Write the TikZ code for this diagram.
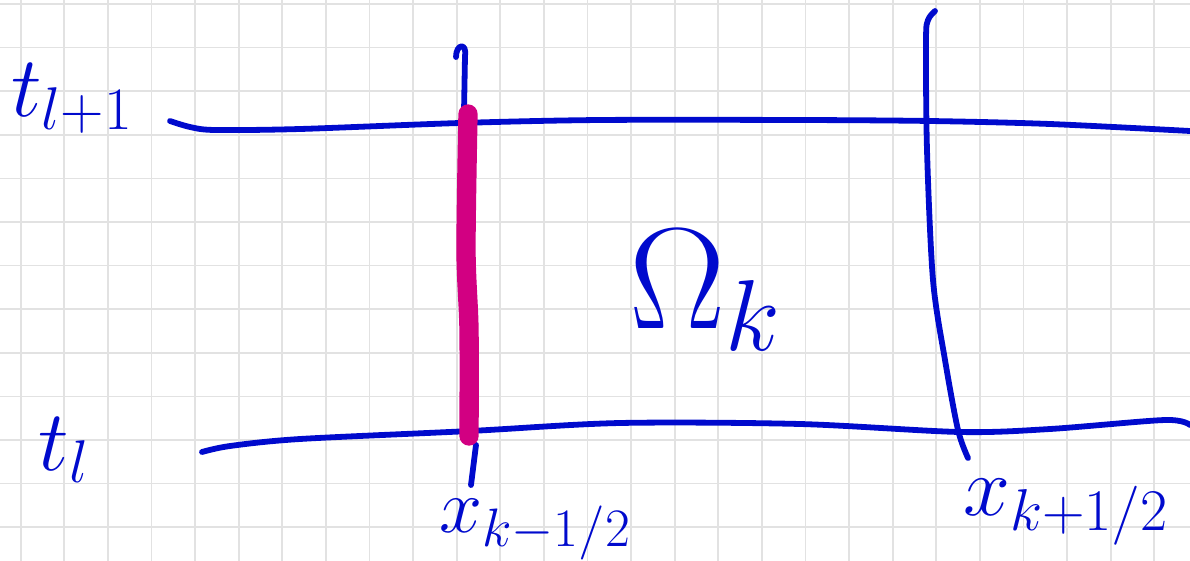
\RequirePackage{fix-cm}
\documentclass[tikz,border=0pt]{standalone}
\usepackage{amsmath,amssymb}
\usepackage{xcolor}
\usepackage{tikz}
\definecolor{inkblue}{RGB}{0,10,205}
\definecolor{inkmagenta}{RGB}{210,0,130}
\definecolor{gridgray}{RGB}{226,226,226}

\begin{document}
\begin{tikzpicture}[x=0.02cm, y=-0.02cm,
    ink/.style={draw=inkblue, line width=3.3pt, line cap=round, line join=round},
    flux/.style={draw=inkmagenta, line width=11pt, line cap=round, line join=round},
    lbl/.style={text=inkblue, inner sep=0pt, font=\fontsize{38}{40}\selectfont}]
  \useasboundingbox (0,0) rectangle (1190,561);

  % paper grid
  \foreach \i in {0,...,26}
    \draw[gridgray, line width=1pt] (20.7+43.6*\i,0) -- (20.7+43.6*\i,561);
  \foreach \j in {0,...,12}
    \draw[gridgray, line width=1pt] (0,4+43.6*\j) -- (1190,4+43.6*\j);

  % time levels
  \draw[ink] plot[smooth, tension=0.5] coordinates {(170,121) (190,127) (215,130) (300,129) (460,123) (600,120) (800,120) (930,121) (1050,124) (1190,131)};
  \draw[ink] plot[smooth, tension=0.5] coordinates {(202,452) (230,446) (300,439) (470,431) (620,423) (800,424) (960,432) (1050,429) (1165,420) (1190,425)};

  % cell faces
  \draw[ink] (456,57) .. controls (456,44) and (467,42) .. (465,56) -- (464,112);
  \draw[ink] (476,445) -- (471,485);
  \draw[flux] plot[smooth, tension=0.5] coordinates {(468,114) (466,250) (469,330) (469,436)};
  \draw[ink] plot[smooth, tension=0.5] coordinates {(935,11) (928,20) (926,40) (927,150) (933,280) (945,360) (958,430) (968,458)};

  % labels
  \node[lbl, font=\fontsize{49}{51}\selectfont] (tnext) at (72,98) {$t_{l+1}$};
  \node[lbl, font=\fontsize{49}{51}\selectfont] (tcur) at (64,450) {$t_l$};
  \node[lbl, font=\fontsize{82}{84}\selectfont] (cell) at (705,290) {$\Omega_k$};
  \node[lbl, font=\fontsize{44}{46}\selectfont] (xleft) at (535,530) {$x_{k-1/2}$};
  \node[lbl, font=\fontsize{48}{50}\selectfont] (xright) at (1066,512) {$x_{k+1/2}$};
\end{tikzpicture}
\end{document}
